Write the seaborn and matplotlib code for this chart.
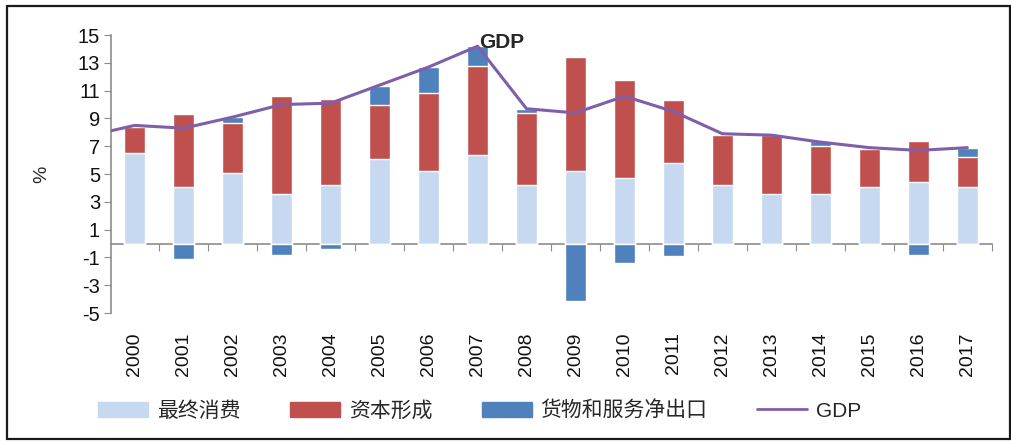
import numpy as np
import pandas as pd
import matplotlib
matplotlib.use("Agg")
import matplotlib.pyplot as plt
import seaborn as sns
from matplotlib.patches import Rectangle, Patch
from matplotlib.lines import Line2D

# 数据：三大需求对GDP增长的拉动（百分点）
years = [str(y) for y in range(2000, 2018)]
consumption = [6.5, 4.1, 5.1, 3.6, 4.2, 6.1, 5.2, 6.4, 4.2, 5.2, 4.7, 5.8, 4.2, 3.6, 3.6, 4.1, 4.4, 4.1]
capital = [1.9, 5.2, 3.6, 7.0, 6.2, 3.9, 5.6, 6.4, 5.2, 8.2, 7.1, 4.5, 3.6, 4.2, 3.4, 2.7, 3.0, 2.1]
net_export = [0.1, -1.1, 0.4, -0.8, -0.4, 1.3, 1.9, 1.4, 0.3, -4.1, -1.4, -0.9, 0.1, -0.1, 0.4, -0.1, -0.8, 0.7]
gdp_years = list(range(1999, 2018))
gdp = [7.7, 8.5, 8.3, 9.1, 10.0, 10.1, 11.4, 12.7, 14.2, 9.7, 9.4, 10.6, 9.5, 7.9, 7.8, 7.3, 6.9, 6.7, 6.9]

c_cons = "#c6d9f0"
c_cap = "#c0504d"
c_net = "#4f81bd"
c_gdp = "#7f5fa8"
c_axis = "#8c8c8c"

df = pd.DataFrame({"year": years, "cons": consumption, "cap": capital, "net": net_export})
df["top_net"] = df["cons"] + df["cap"] + df["net"].clip(lower=0)
df["top_cap"] = df["cons"] + df["cap"]
df["neg_net"] = df["net"].clip(upper=0)

sns.set_style("white")
plt.rcParams['font.family'] = ['Liberation Sans', 'Noto Sans CJK SC', 'DejaVu Sans']
plt.rcParams['axes.unicode_minus'] = False

fig = plt.figure(figsize=(10.11, 4.44), dpi=100)
ax = fig.add_axes([0.110, 0.295, 0.871, 0.626])

bw = 0.42
sns.barplot(data=df, x="year", y="top_net", color=c_net, width=bw, saturation=1, ax=ax)
sns.barplot(data=df, x="year", y="top_cap", color=c_cap, width=bw, saturation=1, ax=ax)
sns.barplot(data=df, x="year", y="cons", color=c_cons, width=bw, saturation=1, ax=ax)
sns.barplot(data=df, x="year", y="neg_net", color=c_net, width=bw, saturation=1, ax=ax)

gdp_x = [y - 2000 for y in gdp_years]
ax.plot(gdp_x, gdp, color=c_gdp, lw=2.2, zorder=5)

ax.set_xlim(-0.48, 17.5)
ax.set_ylim(-5, 15)
ax.set_yticks(np.arange(-5, 16, 2))
ax.set_xticks(range(len(years)))
ax.set_xticklabels(years, rotation=90, fontsize=14)
ax.tick_params(axis="x", length=0, pad=14, labelcolor="#111111")
ax.tick_params(axis="y", length=5, color=c_axis, direction="out", labelsize=14.5, pad=3,
               left=True, labelcolor="#111111")
ax.set_xlabel("")
ax.set_ylabel("%", fontsize=14, labelpad=20)

for s in ["top", "right", "bottom"]:
    ax.spines[s].set_visible(False)
ax.spines["left"].set_color(c_axis)
ax.spines["left"].set_linewidth(1.2)

# 零线及类别分隔刻度
sec = ax.secondary_xaxis(0.25)
sec.set_xticks(np.arange(-0.5, 18, 1))
sec.set_xticklabels([])
sec.tick_params(length=5, color=c_axis, direction="out")
sec.spines["bottom"].set_color(c_axis)
sec.spines["bottom"].set_linewidth(1.2)

ax.text(7.5, 14.45, "GDP", fontsize=15, fontweight="bold", ha="center", va="center")

handles = [Patch(color=c_cons), Patch(color=c_cap), Patch(color=c_net),
           Line2D([], [], color=c_gdp, lw=2)]
labels = ["最终消费", "资本形成", "货物和服务净出口", "GDP"]
fig.legend(handles, labels, loc="center", bbox_to_anchor=(0.4745, 0.075), ncol=4,
           frameon=False, fontsize=15, handlelength=2.4, handletextpad=0.4,
           columnspacing=2.4)

fig.patches.append(Rectangle((0.0074, 0.0113), 0.9916, 0.9752, transform=fig.transFigure,
                             fill=False, edgecolor="#1a1a1a", lw=1.6, zorder=10))

fig.savefig("out.png", dpi=100)
